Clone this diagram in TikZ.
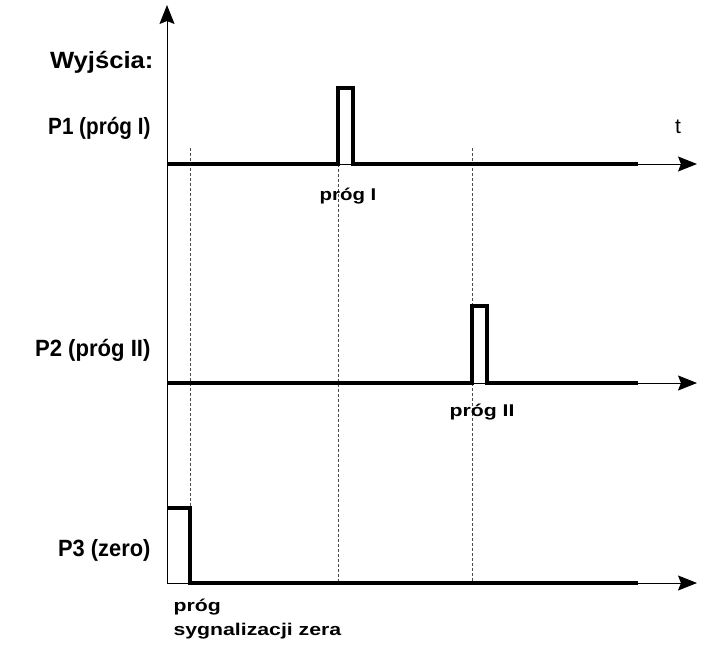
\documentclass[tikz,border=0pt]{standalone}
\usepackage{fontspec}
\setmainfont{Liberation Sans}
\usetikzlibrary{arrows.meta}
\newcommand{\wide}[2][1.25]{\scalebox{#1}[1]{#2}}

\begin{document}
\begin{tikzpicture}[x=1pt,y=-1pt,
    axis/.style={line width=1pt,-{Stealth[length=19pt,width=15pt,inset=3pt]}},
    sig/.style={line width=4pt,line join=miter},
    guide/.style={line width=0.6pt,gray!60!black,dash pattern=on 3pt off 2pt},
    big/.style={font=\bfseries\fontsize{23.5}{28}\selectfont},
    small/.style={font=\bfseries\fontsize{17}{24}\selectfont}
]
    \useasboundingbox (0,0) rectangle (707,645);
    % axes
    \coordinate (o) at (167,583);
    \coordinate (top) at (167,5);
    \coordinate (a1) at (167,164);
    \coordinate (a2) at (167,383);
    \draw[axis] (o) -- (top);
    \draw[axis] (a1) -- (697,164);
    \draw[axis] (a2) -- (697,383);
    \draw[axis] (o) -- (697,583);
    % guides
    \draw[guide] (190,148) -- (190,508);
    \draw[guide] (338,164) -- (338,583);
    \draw[guide] (472,148) -- (472,583);
    % outputs
    \draw[sig] (a1) -- (338,164) -- (338,88) -- (353,88) -- (353,164) -- (638,164);
    \draw[sig] (a2) -- (472,383) -- (472,306) -- (487,306) -- (487,383) -- (638,383);
    \draw[sig] (167,508) -- (190,508) -- (190,583) -- (638,583);
    % labels
    \node[big,anchor=east] (wy) at (157,62) {\wide[1.09]{Wyjścia:}};
    \node[big,anchor=east] (p1) at (154,128) {\wide[0.88]{P1 (próg I)}};
    \node[big,anchor=east] (p2) at (154,350) {\wide[0.94]{P2 (próg II)}};
    \node[big,anchor=east] (p3) at (154,550) {\wide[0.93]{P3 (zero)}};
    \node[font=\fontsize{21}{24}\selectfont] (t) at (678,127) {t};
    \node[small] (pr1) at (348,196) {\wide[1.2]{próg I}};
    \node[small] (pr2) at (482,412) {\wide{próg II}};
    \node[small,anchor=west,align=left] (pr3) at (170,619) {\wide{próg}\\\wide{sygnalizacji zera}};
\end{tikzpicture}
\end{document}
